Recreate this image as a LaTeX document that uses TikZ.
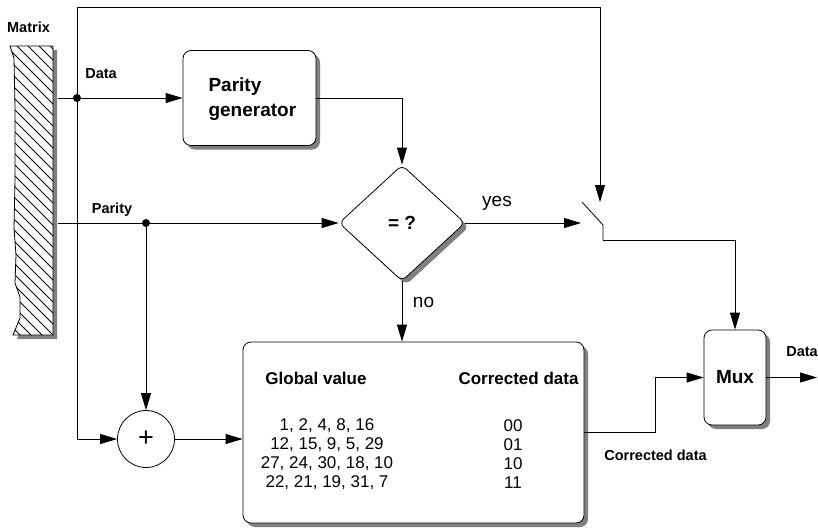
\documentclass[tikz,border=0pt]{standalone}
\usepackage{fontspec}
\setmainfont{Liberation Sans}
\usetikzlibrary{arrows.meta,shapes.geometric,shadows,calc}

\tikzset{
  wire/.style={draw, line width=0.8pt},
  arr/.style={-{Triangle[length=17pt,width=10pt]}},
  boxshadow/.style={general shadow={shadow xshift=4pt, shadow yshift=-4pt, fill=black!50}},
  block/.style={draw, fill=white, line width=0.8pt, rounded corners=8pt, boxshadow},
  tag/.style={font=\fontsize{14.5}{17}\selectfont\bfseries},
  bigtxt/.style={font=\fontsize{19}{25}\selectfont\bfseries},
  plaintxt/.style={font=\fontsize{19}{22}\selectfont},
  tabtxt/.style={font=\fontsize{17}{20}\selectfont},
  tabhead/.style={font=\fontsize{17}{20}\selectfont\bfseries},
  dot/.style={circle, fill=black, inner sep=0pt, minimum size=8pt},
}

\begin{document}
\begin{tikzpicture}[x=1pt, y=-1pt]
\useasboundingbox (0,0) rectangle (818,528);

% memory matrix strip with a ragged left edge
\def\matrixoutline{(10,46) -- (53,46) -- (53,335) -- (13,335) -- (20,318) -- (20,297) -- (15,283)
  -- (16,255) -- (14,228) -- (15,180) -- (15,107) -- (14,58) -- cycle}
\fill[black!50] [shift={(4,4)}] \matrixoutline;
\fill[white] \matrixoutline;
\begin{scope}
  \clip \matrixoutline;
  \foreach \c in {-70,-59,...,360}
    \draw[line width=0.8pt] (0,\c) -- (70,\c+70);
\end{scope}
\draw[line width=0.8pt] \matrixoutline;
\node[tag] (mxlabel) at (28.5,27) {Matrix};
\coordinate (mxdata) at (58,98);
\coordinate (mxpar) at (58,223);

% processing blocks
\node[block, minimum width=133pt, minimum height=95pt] (pgen) at (249.5,98) {};
\node[bigtxt, align=left, anchor=west] (pgentxt) at (205,99.5) {Parity\\generator};

\node[diamond, draw, fill=white, line width=0.8pt, rounded corners=6pt,
      minimum width=126pt, minimum height=116pt, inner sep=0pt,
      boxshadow, bigtxt] (eq) at (402,223) {= ?};

\node[draw, circle, fill=white, line width=0.8pt, minimum size=57pt, inner sep=0pt,
      font=\fontsize{27}{28}\selectfont] (plus) at (146,439) {+};

\node[block, minimum width=341pt, minimum height=181pt] (tab) at (413.5,432.5) {};
\node[tabhead] (h1) at (316,378) {Global value};
\node[tabhead] (h2) at (518.5,378) {Corrected data};
\node[tabtxt] (r1) at (327,426) {1, 2, 4, 8, 16};
\node[tabtxt] (r2) at (327,445) {12, 15, 9, 5, 29};
\node[tabtxt] (r3) at (327,464) {27, 24, 30, 18, 10};
\node[tabtxt] (r4) at (327,483) {22, 21, 19, 31, 7};
\node[tabtxt] (c1) at (513,426) {00};
\node[tabtxt] (c2) at (513,445) {01};
\node[tabtxt] (c3) at (513,464) {10};
\node[tabtxt] (c4) at (513,483) {11};

\node[block, minimum width=62pt, minimum height=95pt, bigtxt] (mux) at (735,377.5) {Mux};

% switch and free ends
\coordinate (topc) at (77,7);
\coordinate (ddot) at (77,98);
\coordinate (pdot) at (146,223);
\coordinate (swin) at (600,202);
\coordinate (swA) at (581,223);
\coordinate (swB) at (582,202);
\coordinate (swC) at (603,225);
\coordinate (swD) at (603,240);
\coordinate (dout) at (817,377.5);

% connectors
\draw[wire, arr] (topc) |- (plus.west);
\draw[wire, arr] (topc) -| (swin);
\draw[wire, arr] (mxdata) -- (pgen.west);
\draw[wire, arr] (pgen.east) -| (eq.north);
\draw[wire, arr] (mxpar) -- (eq.west);
\draw[wire, arr] (pdot) -- (plus.north);
\draw[wire, arr] (plus.east) -- (plus.east -| tab.west);
\draw[wire, arr] (eq.south) -- (eq.south |- tab.north);
\draw[wire, arr] (eq.east) -- (swA);
\draw[wire] (swB) -- (swC) -- (swD);
\draw[wire, arr] (swD) -| (mux.north);
\draw[wire, arr] (tab.east) -- ++(71,0) |- (mux.west);
\draw[wire, arr] (mux.east) -- (dout);

\node[dot] (d1) at (ddot) {};
\node[dot] (d2) at (pdot) {};

% labels
\node[tag] (ldata) at (101,74) {Data};
\node[tag] (lpar) at (112,210) {Parity};
\node[plaintxt] (lyes) at (497,203) {yes};
\node[plaintxt] (lno) at (423.5,302) {no};
\node[tag] (lcorr) at (655.5,455) {Corrected data};
\node[tag] (ldout) at (802,352) {Data};
\end{tikzpicture}
\end{document}
